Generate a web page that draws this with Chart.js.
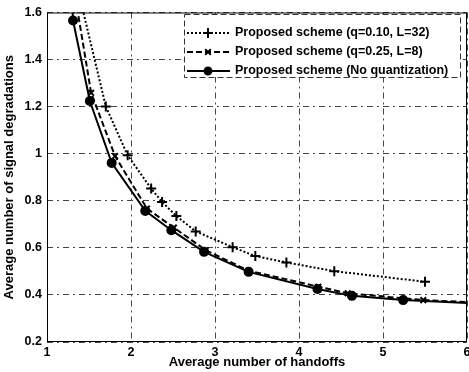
<!DOCTYPE html>
<html>
<head>
<meta charset="utf-8">
<script src="https://cdn.jsdelivr.net/npm/chart.js@4/dist/chart.umd.min.js"></script>
<style>
  html, body { margin: 0; padding: 0; background: #fff; overflow: hidden; }
  #wrap { width: 474px; height: 372px; position: relative; }
</style>
</head>
<body>
<div id="wrap"><canvas id="chart"></canvas></div>
<script>
// values (first points lie just above the top of the axes)
const xQ10 = [1.38, 1.70, 1.96, 2.24, 2.37, 2.54, 2.77, 3.21, 3.48, 3.85, 4.42, 5.50];
const yQ10 = [1.68, 1.201, 0.993, 0.852, 0.795, 0.735, 0.670, 0.603, 0.565, 0.538, 0.501, 0.456];

const xQ25 = [1.34, 1.525, 1.81, 2.19, 2.51, 2.89, 3.40, 4.23, 4.58, 5.48, 6.0];
const yQ25 = [1.66, 1.259, 0.990, 0.767, 0.686, 0.590, 0.503, 0.435, 0.407, 0.378, 0.370];

const xNoQ = [1.30, 1.31, 1.51, 1.77, 2.17, 2.48, 2.87, 3.40, 4.22, 4.63, 5.24, 6.0];
const yNoQ = [1.64, 1.566, 1.224, 0.961, 0.757, 0.675, 0.583, 0.498, 0.425, 0.396, 0.378, 0.366];

const labels = [
  "Proposed scheme (q=0.10, L=32)",
  "Proposed scheme (q=0.25, L=8)",
  "Proposed scheme (No quantization)"
];
const xTitle = "Average number of handoffs";
const yTitle = "Average number of signal degradations";

const FONT = "'Liberation Sans', Arial, sans-serif";

function pts(xs, ys) {
  return xs.map((x, i) => ({ x: x, y: ys[i] }));
}
// hide markers that sit outside the axes
function rad(r) {
  return (ctx) => {
    const p = ctx.raw;
    if (!p || p.y > 1.6 || p.x >= 6) return 0;
    return r;
  };
}

const styles = [
  { dash: [2, 2], pointStyle: "cross", r: 5 },
  { dash: [6, 3], pointStyle: "crossRot", r: 4 },
  { dash: [], pointStyle: "circle", r: 4 }
];

const boxLegend = {
  id: "boxLegend",
  afterDraw(chart) {
    const ctx = chart.ctx;
    const a = chart.chartArea;
    ctx.save();
    // axes box
    ctx.strokeStyle = "#000";
    ctx.lineWidth = 1;
    ctx.setLineDash([]);
    ctx.strokeRect(a.left + 0.5, a.top + 0.5, a.right - a.left - 1, a.bottom - a.top - 1);

    // legend
    const lx = 184, ly = 14, lw = 276, lh = 63;
    ctx.fillStyle = "#fff";
    ctx.fillRect(lx, ly, lw, lh);
    ctx.strokeStyle = "#333";
    ctx.setLineDash([6, 3]);
    ctx.strokeRect(lx + 0.5, ly + 0.5, lw, lh);

    const rows = [33, 52, 71];
    ctx.font = "bold 12.5px " + FONT;
    ctx.textBaseline = "middle";
    labels.forEach((lab, i) => {
      const y = rows[i];
      const st = styles[i];
      ctx.strokeStyle = "#000";
      ctx.lineWidth = 2;
      ctx.setLineDash(st.dash);
      ctx.beginPath();
      ctx.moveTo(187, y);
      ctx.lineTo(230, y);
      ctx.stroke();
      ctx.setLineDash([]);
      Chart.helpers.drawPoint(ctx, {
        pointStyle: st.pointStyle,
        radius: st.pointStyle === "circle" ? 3.5 : st.r,
        borderWidth: 2
      }, 208, y);
      ctx.fillStyle = "#000";
      if (st.pointStyle === "circle") {
        ctx.beginPath();
        ctx.arc(208, y, 3.5, 0, Math.PI * 2);
        ctx.fill();
      }
      ctx.fillText(lab, 235, y);
    });
    ctx.restore();
  }
};

const datasets = [
  { data: pts(xQ10, yQ10) },
  { data: pts(xQ25, yQ25) },
  { data: pts(xNoQ, yNoQ) }
].map((d, i) => ({
  label: labels[i],
  data: d.data,
  showLine: true,
  borderColor: "#000",
  backgroundColor: "#000",
  borderWidth: 2,
  borderDash: styles[i].dash,
  pointStyle: styles[i].pointStyle,
  pointRadius: rad(styles[i].r),
  pointBorderWidth: 2,
  pointBorderColor: "#000",
  pointBackgroundColor: "#000",
  tension: 0
}));

const gridStyle = {
  color: "#444",
  lineWidth: 1,
  drawTicks: false
};

new Chart(document.getElementById("chart"), {
  type: "scatter",
  data: { datasets: datasets },
  options: {
    responsive: true,
    maintainAspectRatio: false,
    animation: false,
    layout: { padding: { top: 12, right: 3, left: 0, bottom: 0 } },
    plugins: {
      legend: { display: false },
      tooltip: { enabled: false }
    },
    scales: {
      x: {
        type: "linear",
        min: 1,
        max: 6,
        border: { display: false, dash: [6, 4, 2, 4] },
        grid: gridStyle,
        ticks: {
          stepSize: 1,
          padding: 3,
          color: "#000",
          font: { family: FONT, size: 12.5, weight: "bold" }
        },
        title: {
          display: true,
          text: xTitle,
          color: "#000",
          padding: { top: 0, bottom: 2 },
          font: { family: FONT, size: 13, weight: "bold" }
        },
        afterFit(scale) { scale.height = 30; }
      },
      y: {
        type: "linear",
        min: 0.2,
        max: 1.6,
        border: { display: false, dash: [6, 4, 2, 4] },
        grid: gridStyle,
        ticks: {
          stepSize: 0.2,
          padding: 5,
          color: "#000",
          font: { family: FONT, size: 12.5, weight: "bold" },
          callback: (v) => (Math.abs(v - 1) < 1e-9 ? "1" : v.toFixed(1))
        },
        title: {
          display: true,
          text: yTitle,
          color: "#000",
          padding: { top: 2, bottom: 0 },
          font: { family: FONT, size: 13, weight: "bold" }
        },
        afterFit(scale) { scale.width = 47; }
      }
    }
  },
  plugins: [boxLegend]
});
</script>
</body>
</html>
